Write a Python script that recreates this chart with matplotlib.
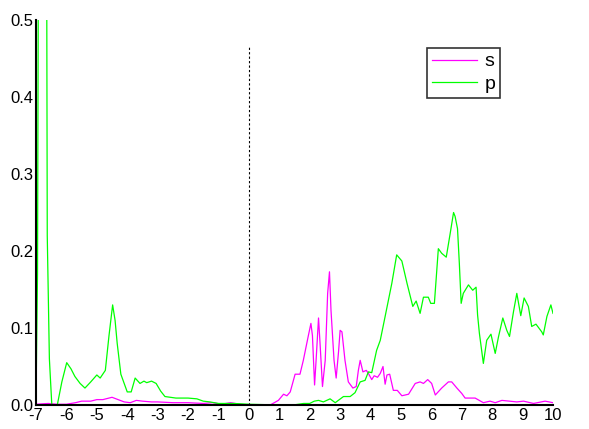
import numpy as np
import matplotlib.pyplot as plt

plt.rcParams['font.family'] = ['Liberation Sans', 'DejaVu Sans']

# p states (green)
e_p = [-7.0, -6.98, -6.95, -6.92, -6.9, -6.8, -6.65, -6.63, -6.56, -6.48, -6.3, -6.15,
       -5.99, -5.85, -5.72, -5.55, -5.39, -5.2, -5.0, -4.89, -4.72, -4.6, -4.48, -4.4,
       -4.33, -4.21, -4.0, -3.87, -3.74, -3.58, -3.45, -3.36, -3.2, -3.05, -2.9, -2.76,
       -2.4, -2.0, -1.71, -1.5, -1.28, -1.0, -0.5, 0.0, 1.0, 1.46, 1.8, 2.0, 2.15, 2.29,
       2.45, 2.67, 2.84, 3.11, 3.33, 3.49, 3.66, 3.82, 3.93, 4.04, 4.2, 4.32, 4.48, 4.7,
       4.86, 5.03, 5.2, 5.39, 5.5, 5.63, 5.74, 5.9, 5.98, 6.1, 6.23, 6.34, 6.49, 6.62,
       6.73, 6.78, 6.86, 6.92, 6.98, 7.05, 7.22, 7.36, 7.47, 7.52, 7.58, 7.71, 7.82, 7.96,
       8.1, 8.21, 8.35, 8.48, 8.57, 8.7, 8.81, 8.94, 9.05, 9.19, 9.3, 9.44, 9.63, 9.68,
       9.8, 9.93, 10.0]
dos_p = [0.0, 0.075, 0.17, 0.6, 0.65, 0.9, 0.6, 0.22, 0.06, 0.0, 0.0, 0.03,
         0.055, 0.047, 0.037, 0.028, 0.022, 0.03, 0.039, 0.035, 0.045, 0.09, 0.13, 0.11,
         0.08, 0.04, 0.017, 0.017, 0.035, 0.028, 0.031, 0.029, 0.031, 0.028, 0.018, 0.011,
         0.009, 0.009, 0.008, 0.005, 0.004, 0.002, 0.002, 0.001, 0.0, 0.0, 0.002, 0.002, 0.005, 0.006,
         0.004, 0.008, 0.003, 0.011, 0.011, 0.016, 0.03, 0.032, 0.043, 0.042, 0.071, 0.084, 0.115, 0.158,
         0.195, 0.187, 0.158, 0.128, 0.135, 0.119, 0.14, 0.14, 0.132, 0.132, 0.203, 0.197, 0.192, 0.223,
         0.25, 0.245, 0.229, 0.184, 0.132, 0.145, 0.156, 0.149, 0.153, 0.117, 0.093, 0.054, 0.084, 0.092,
         0.067, 0.089, 0.113, 0.097, 0.089, 0.121, 0.145, 0.116, 0.139, 0.128, 0.102, 0.105, 0.095, 0.091,
         0.115, 0.13, 0.119]

# s states (magenta)
e_s = [-7.0, -6.6, -6.3, -6.0, -5.7, -5.5, -5.2, -5.0, -4.8, -4.5, -4.3, -4.1, -3.9,
       -3.7, -3.5, -3.2, -3.0, -2.5, -2.0, -1.5, -1.2, -0.9, -0.6, -0.3, 0.0, 0.7, 0.97,
       1.14, 1.25, 1.36, 1.52, 1.68, 1.79, 1.95, 2.04, 2.09, 2.16, 2.21, 2.29, 2.34, 2.42,
       2.51, 2.59, 2.65, 2.7, 2.8, 2.87, 2.95, 3.0, 3.06, 3.16, 3.27, 3.42, 3.53, 3.6,
       3.66, 3.75, 3.86, 3.93, 4.04, 4.12, 4.23, 4.32, 4.41, 4.48, 4.54, 4.63, 4.75, 4.88,
       5.03, 5.25, 5.47, 5.63, 5.74, 5.88, 6.01, 6.13, 6.34, 6.56, 6.67, 6.84, 7.0, 7.11,
       7.44, 7.71, 7.93, 8.1, 8.32, 8.81, 9.03, 9.36, 9.74, 10.0]
dos_s = [0.001, 0.002, 0.001, 0.001, 0.003, 0.005, 0.005, 0.007, 0.007, 0.01, 0.007, 0.004, 0.003,
         0.006, 0.005, 0.004, 0.004, 0.003, 0.003, 0.002, 0.003, 0.001, 0.003, 0.001, 0.0, 0.0, 0.006,
         0.014, 0.012, 0.017, 0.04, 0.04, 0.058, 0.089, 0.106, 0.09, 0.026, 0.058, 0.113, 0.08, 0.024,
         0.058, 0.145, 0.173, 0.123, 0.058, 0.035, 0.07, 0.097, 0.095, 0.058, 0.03, 0.022, 0.024, 0.045,
         0.058, 0.043, 0.045, 0.041, 0.033, 0.038, 0.036, 0.041, 0.05, 0.027, 0.039, 0.04, 0.019, 0.019,
         0.012, 0.014, 0.028, 0.03, 0.028, 0.033, 0.028, 0.013, 0.022, 0.03, 0.03, 0.022, 0.015, 0.009,
         0.009, 0.003, 0.005, 0.003, 0.006, 0.004, 0.005, 0.002, 0.005, 0.003]

xticks = list(range(-7, 11))
yticks = [0.0, 0.1, 0.2, 0.3, 0.4, 0.5]

fig = plt.figure(figsize=(5.89, 4.29), dpi=100)
ax = fig.add_axes([36/589, 24/429, 517/589, 385/429])

ax.plot(e_s, dos_s, color='#ff00ff', lw=0.9, label='s')
ax.plot(e_p, dos_p, color='#00ff00', lw=0.9, label='p')
ax.vlines(0, 0, 0.467, colors='black', linestyles=(0, (2, 2)), lw=0.8)

ax.set_xlim(-7, 10)
ax.set_ylim(0, 0.5)
ax.set_xticks(xticks)
ax.set_xticklabels([str(t) for t in xticks])
ax.set_yticks(yticks)
ax.set_yticklabels(['%.1f' % t for t in yticks])
ax.tick_params(length=0, labelsize=12, pad=2)
for side in ['top', 'right']:
    ax.spines[side].set_visible(False)
for side in ['left', 'bottom']:
    ax.spines[side].set_linewidth(1.5)

leg = ax.legend(loc='upper left', bbox_to_anchor=(427/589, 1 - 48/429),
                bbox_transform=fig.transFigure, fontsize=14, frameon=True,
                fancybox=False, edgecolor='black', borderaxespad=0,
                handlelength=2.3, handletextpad=0.4, borderpad=0.25, labelspacing=0.25)
leg.get_frame().set_linewidth(1.2)

fig.savefig('out.png', dpi=100)
